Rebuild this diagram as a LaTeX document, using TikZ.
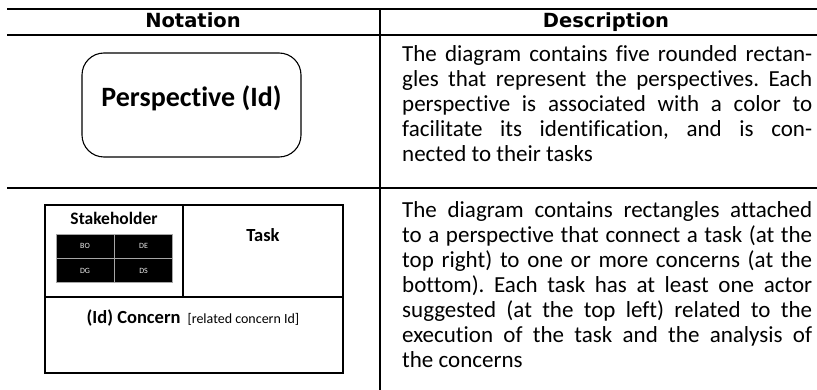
\documentclass[tikz,border=0pt]{standalone}
\usepackage{fontspec}
\setmainfont{Carlito}[Ligatures=NoCommon]
\newfontfamily\hdfont{DejaVu Sans}
\usepackage{tikz}
\usetikzlibrary{positioning}
\frenchspacing

\begin{document}
\begin{tikzpicture}[
    x=1pt, y=-1pt,
    % GLOBAL CFG
    inner sep=0pt,
    % Styles
    rule/.style={% For the table rules
        line width=2.6pt,
        },
    header/.style={% For the column titles
        anchor=base,
        font=\hdfont\bfseries\fontsize{19.5}{22}\selectfont,
        },
    desc/.style={% For the description texts
        anchor=north west,
        text width=410pt,
        align=justify,
        font=\fontsize{23}{25}\selectfont,
        },
    persp/.style={% For the rounded perspective box
        rectangle,
        rounded corners=22pt,
        draw,
        line width=1.1pt,
        minimum width=219pt,
        minimum height=104pt,
        },
    cellbox/.style={% For the task box parts
        draw,
        line width=1.3pt,
        },
    role/.style={% For the stakeholder cells
        rectangle,
        fill=black,
        draw=gray!70,
        line width=0.6pt,
        minimum width=58pt,
        minimum height=24pt,
        font=\fontsize{8}{9}\selectfont,
        text=white!85!gray,
        },
    ]

    \useasboundingbox (0,0) rectangle (817,390);

    % the table
    \draw [rule] (7,9) -- (817,9);
    \draw [rule] (7,35) -- (817,35);
    \draw [rule] (7,188) -- (817,188);
    \draw [line width=2pt] (380,9) -- (380,390);

    \node [header] (notation) at (193,28) {Notation};
    \node [header] (description) at (606,28) {Description};

    % first row: the perspective
    \node [persp] (perspective) at (191.5,105) {};
    \node [font=\bfseries\fontsize{28}{30}\selectfont] (ptitle) at (191.5,98) {Perspective (Id)};

    \node [desc] (desc1) at (402,45) {The diagram contains five rounded rectan-\linebreak
        gles that represent the perspectives. Each\linebreak
        perspective is associated with a color to\linebreak
        facilitate its identification, and is con-\linebreak
        nected to their tasks};

    % second row: the task box
    \draw [cellbox] (45,205) rectangle (343,373);
    \draw [cellbox] (45,297) -- (343,297);
    \draw [cellbox] (183,205) -- (183,297);

    \node [font=\bfseries\fontsize{17.5}{19}\selectfont] (stakeholder) at (114,218) {Stakeholder};
    \node [role] (bo) at (85,246) {BO};
    \node [role, right=0pt of bo] (de) {DE};
    \node [role, below=0pt of bo] (dg) {DG};
    \node [role, right=0pt of dg] (ds) {DS};

    \node [font=\bfseries\fontsize{18.5}{20}\selectfont] (task) at (263,235) {Task};

    \node (concern) at (193,318) {{\bfseries\fontsize{18.5}{20}\selectfont (Id) Concern}\hspace{7pt}{\fontsize{14}{16}\selectfont [related concern Id]}};

    \node [desc] (desc2) at (402,201) {The diagram contains rectangles attached\linebreak
        to a perspective that connect a task (at the\linebreak
        top right) to one or more concerns (at the\linebreak
        bottom). Each task has at least one actor\linebreak
        suggested (at the top left) related to the\linebreak
        execution of the task and the analysis of\linebreak
        the concerns};

\end{tikzpicture}
\end{document}
